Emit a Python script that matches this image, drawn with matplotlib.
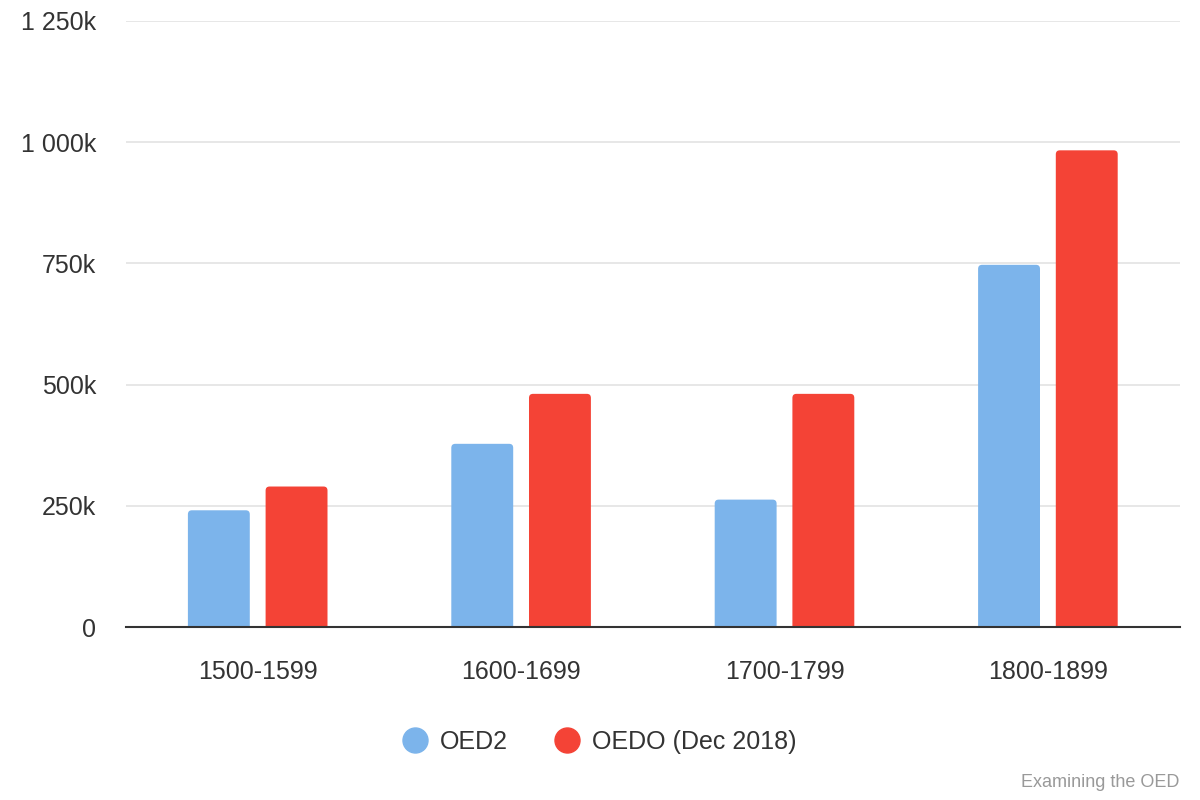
import matplotlib.pyplot as plt
import matplotlib.ticker as mticker
from matplotlib.lines import Line2D
from matplotlib.patches import FancyBboxPatch
import numpy as np

plt.rcParams['font.family'] = ['Liberation Sans', 'DejaVu Sans']

centuries = ['1500-1599', '1600-1699', '1700-1799', '1800-1899']
oed2 = [241000, 378000, 263000, 747000]
oedo = [290000, 481000, 481000, 983000]
series_names = ['OED2', 'OEDO (Dec 2018)']
colors = ['#7cb4eb', '#f44336']
yticks = [0, 250000, 500000, 750000, 1000000, 1250000]

fig = plt.figure(figsize=(12, 8), dpi=100)
ax = fig.add_axes([0.105, 0.216, 0.878, 0.758])

x = np.arange(len(centuries))
w = 0.235
off = w / 2 + 0.03
bars1 = ax.bar(x - off, oed2, width=w, color=colors[0], zorder=3)
bars2 = ax.bar(x + off, oedo, width=w, color=colors[1], zorder=3)

ax.set_xlim(-0.5, len(centuries) - 0.5)
ax.set_ylim(0, 1250000)

# swap plain bars for ones with slightly rounded top corners
rx = 0.015
ry = 8300
for cont, c in [(bars1, colors[0]), (bars2, colors[1])]:
    for r in cont:
        r.set_visible(False)
        p = FancyBboxPatch((r.get_x(), -2 * ry), r.get_width(), r.get_height() + 2 * ry,
                           boxstyle='round,pad=0,rounding_size=%g' % rx,
                           mutation_aspect=ry / rx, facecolor=c, edgecolor='none',
                           zorder=3)
        ax.add_patch(p)

ax.set_yticks(yticks)


def fmt(v, pos):
    k = int(round(v / 1000))
    if k == 0:
        return '0'
    return '{:,}k'.format(k).replace(',', ' ')


ax.yaxis.set_major_formatter(mticker.FuncFormatter(fmt))
ax.set_xticks(x)
ax.set_xticklabels(centuries)
ax.tick_params(axis='y', length=0, pad=21.5, labelsize=18, labelcolor='#333333')
ax.tick_params(axis='x', length=0, pad=23.5, labelsize=18, labelcolor='#333333')
ax.grid(axis='y', color='#e3e3e3', linewidth=1.2, zorder=0)
for s in ['top', 'right', 'left']:
    ax.spines[s].set_visible(False)
ax.spines['bottom'].set_color('#333333')
ax.spines['bottom'].set_linewidth(1.5)
ax.spines['bottom'].set_zorder(4)

handles = [Line2D([], [], marker='o', linestyle='none', markersize=18,
                  markerfacecolor=c, markeredgecolor=c) for c in colors]
fig.legend(handles, series_names, loc='center', bbox_to_anchor=(0.4995, 0.0725),
           ncol=2, frameon=False, fontsize=18, handlelength=1.0,
           handletextpad=0.5, columnspacing=1.85, labelcolor='#333333')

fig.text(0.983, 0.022, 'Examining the OED', ha='right', va='center',
         fontsize=13, color='#999999')

fig.savefig('out.png', dpi=100)
